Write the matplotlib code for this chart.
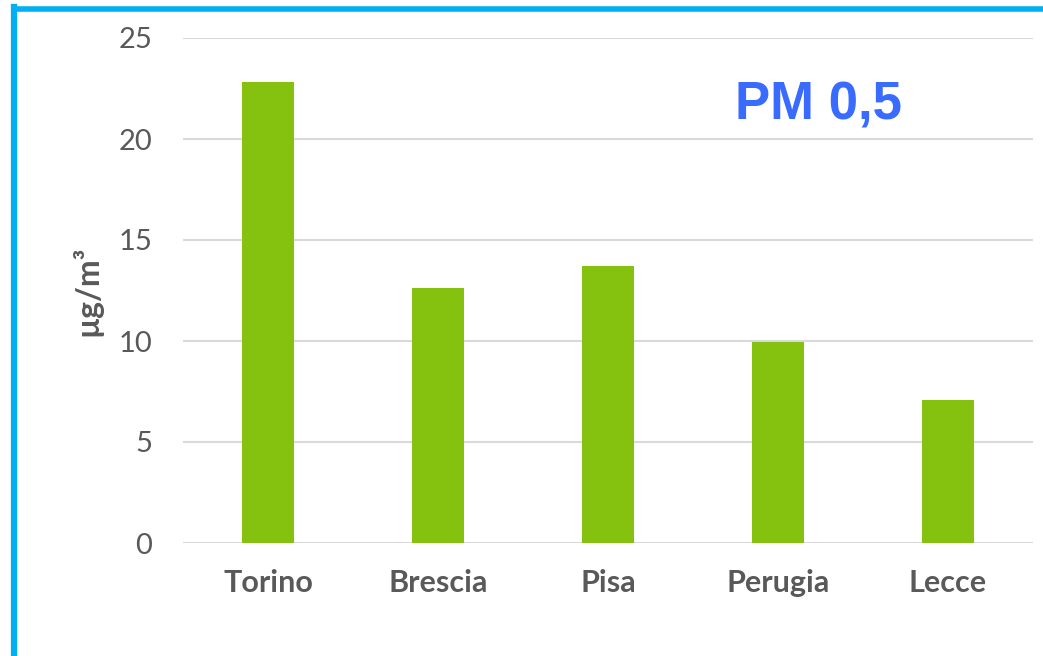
import matplotlib
matplotlib.use("Agg")
import matplotlib.pyplot as plt
from matplotlib.lines import Line2D

cities = ["Torino", "Brescia", "Pisa", "Perugia", "Lecce"]
pm05 = [22.8, 12.6, 13.7, 9.95, 7.1]
yticks = [0, 5, 10, 15, 20, 25]

W, H = 1043, 656
fig = plt.figure(figsize=(W / 100, H / 100), dpi=100)
fig.patch.set_facecolor("white")

ax = fig.add_axes([183 / W, 1 - 543 / H, 850 / W, (543 - 38) / H])
ax.bar(range(len(cities)), pm05, width=0.31, color="#84C20F", zorder=3)
ax.set_xlim(-0.5, len(cities) - 0.5)
ax.set_ylim(0, 25)
ax.set_yticks(yticks)
ax.set_yticklabels([str(v) for v in yticks])
ax.set_xticks(range(len(cities)))
ax.set_xticklabels(cities, fontweight="bold")

for s in ax.spines.values():
    s.set_visible(False)
ax.grid(axis="y", color="#D9D9D9", linewidth=1.5, zorder=0)
ax.tick_params(axis="both", length=0, colors="#595959")
ax.tick_params(axis="y", pad=22, labelsize=21)
ax.tick_params(axis="x", pad=19, labelsize=22)
for lab in ax.get_xticklabels() + ax.get_yticklabels():
    lab.set_fontfamily("Lato")

ax.set_ylabel("µg/m³", fontsize=23, fontweight="bold", color="#595959",
              family="Lato")
ax.yaxis.set_label_coords(-0.095, 0.5)

fig.text(735 / W, 1 - 106 / H, "PM 0,5", fontsize=38, fontweight="bold",
         color="#3A6BFF", family="Liberation Sans", va="center", ha="left")

# frame lines along the top and left edge
fig.add_artist(Line2D([14 / W, 1], [1 - 9 / H, 1 - 9 / H],
                      color="#00B0F0", linewidth=4, transform=fig.transFigure))
fig.add_artist(Line2D([14 / W, 14 / W], [1 - 7 / H, 0],
                      color="#00B0F0", linewidth=4.5, transform=fig.transFigure))

fig.savefig("out.png", dpi=100)
